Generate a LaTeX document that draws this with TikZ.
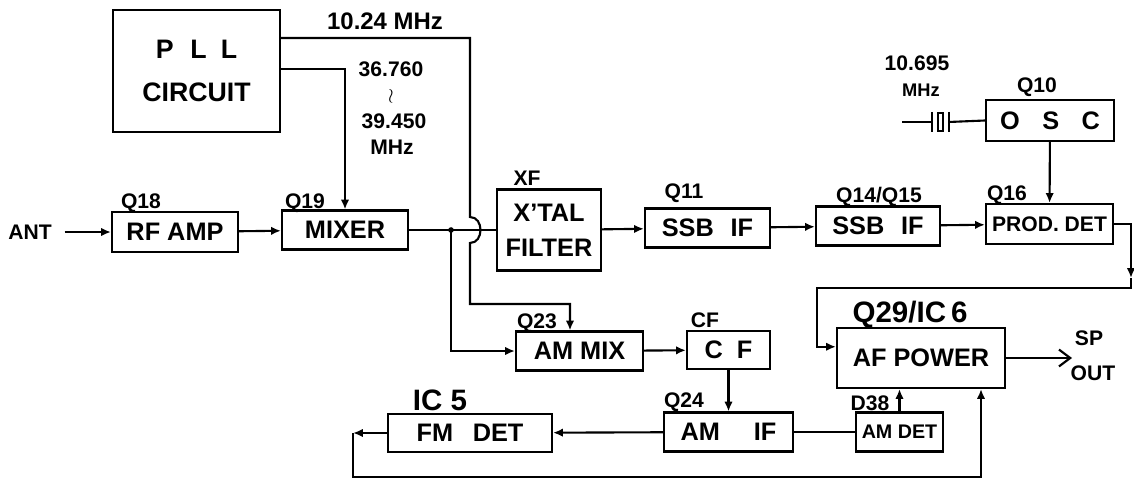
\documentclass[tikz,border=0pt]{standalone}
\usepackage{fontspec}
\setmainfont{Liberation Sans}
\usetikzlibrary{arrows.meta}

\def \pllCenterX{196.5}
\def \pllCenterY{71}
\def \rfampCenterX{175}
\def \rfampCenterY{232}
\def \mixerCenterX{345}
\def \mixerCenterY{230}
\def \xtalCenterX{549}
\def \xtalCenterY{230}
\def \ssbACenterX{707.5}
\def \ssbACenterY{228}
\def \ssbBCenterX{878}
\def \ssbBCenterY{226}
\def \prodCenterX{1049.5}
\def \prodCenterY{224}
\def \oscCenterX{1050}
\def \oscCenterY{120.5}
\def \ammixCenterX{579.5}
\def \ammixCenterY{351}
\def \cfCenterX{728.5}
\def \cfCenterY{350}
\def \afCenterX{921}
\def \afCenterY{358}
\def \amifCenterX{728.5}
\def \amifCenterY{432}
\def \amdetCenterX{899.5}
\def \amdetCenterY{432}
\def \fmdetCenterX{470}
\def \fmdetCenterY{433}

\begin{document}
\begin{tikzpicture}[x=0.025cm, y=-0.025cm,
  block/.style={draw, line width=1.5pt, inner sep=2pt, font=\bfseries\fontsize{18}{21}\selectfont},
  boxsize/.style 2 args={minimum width=#1*0.025cm, minimum height=#2*0.025cm},
  tag/.style={inner sep=0pt, font=\bfseries\fontsize{15}{18}\selectfont},
  bigtag/.style={inner sep=0pt, font=\bfseries\fontsize{21}{24}\selectfont},
  wire/.style={line width=1.5pt},
  flow/.style={wire, -{Latex[length=7pt,width=6pt]}}]
\useasboundingbox (0,0) rectangle (1134,480);

% ---- Blocks boxes
% ---- PLL
\node[block, boxsize={167}{122}, align=center, font=\bfseries\fontsize{19}{22}\selectfont] (pll) at (\pllCenterX, \pllCenterY) {P\hspace{12pt}L\hspace{10pt}L\\[8pt]CIRCUIT};
% ---- RF amp / mixer
\node[block, boxsize={126}{40}] (rfamp) at (\rfampCenterX, \rfampCenterY) {RF AMP};
\node[block, boxsize={126}{39}] (mixer) at (\mixerCenterX, \mixerCenterY) {MIXER};
% ---- Crystal filter
\node[block, boxsize={104}{81}, align=center] (xtal) at (\xtalCenterX, \xtalCenterY) {X'TAL\\[4pt]FILTER};
% ---- SSB chain
\node[block, boxsize={125}{39}] (ssbA) at (\ssbACenterX, \ssbACenterY) {SSB\hspace{12pt}IF};
\node[block, boxsize={124}{39}] (ssbB) at (\ssbBCenterX, \ssbBCenterY) {SSB\hspace{12pt}IF};
\node[block, boxsize={127}{40}, font=\bfseries\fontsize{15}{18}\selectfont] (prod) at (\prodCenterX, \prodCenterY) {PROD. DET};
\node[block, boxsize={128}{41}] (osc) at (\oscCenterX, \oscCenterY) {O\hspace{16pt}S\hspace{16pt}C};
% ---- AM chain
\node[block, boxsize={127}{39}] (ammix) at (\ammixCenterX, \ammixCenterY) {AM MIX};
\node[block, boxsize={83}{38}] (cf) at (\cfCenterX, \cfCenterY) {C\hspace{10pt}F};
\node[block, boxsize={129}{39}] (amif) at (\amifCenterX, \amifCenterY) {AM\hspace{24pt}IF};
\node[block, boxsize={87}{39}, inner sep=0pt, font=\bfseries\fontsize{14}{17}\selectfont] (amdet) at (\amdetCenterX, \amdetCenterY) {AM DET};
\node[block, boxsize={164}{38}] (fmdet) at (\fmdetCenterX, \fmdetCenterY) {FM\hspace{14pt}DET};
% ---- AF power
\node[block, boxsize={168}{60}] (af) at (\afCenterX, \afCenterY) {AF POWER};
% ---- Crystal
\node[draw, line width=1.5pt, minimum width=4pt, minimum height=18*0.025cm, inner sep=0pt] (xcr) at (940.5,122) {};

% ---- Labels
\node[tag] (ant) at (30,232) {ANT};
\node[tag, font=\bfseries\fontsize{17}{19}\selectfont] (fref) at (385,21) {10.24 MHz};
\node[tag] (floA) at (391,69) {36.760};
\node[tag, font=\fontsize{14}{14}\selectfont] (floS) at (391,96) {$\wr$};
\node[tag] (floB) at (394,121) {39.450};
\node[tag] (floM) at (392,147) {MHz};
\node[tag] (lq18) at (141,203) {Q18};
\node[tag] (lq19) at (305,203) {Q19};
\node[tag] (lxf) at (527,178) {XF};
\node[tag] (lq11) at (684,193) {Q11};
\node[tag] (lq14) at (879,197) {Q14/Q15};
\node[tag] (lq16) at (1007,195) {Q16};
\node[tag] (lq10) at (1037,87) {Q10};
\node[tag] (lxfreq) at (917,63) {10.695};
\node[tag, font=\bfseries\fontsize{13}{15}\selectfont] (lxmhz) at (921,90) {MHz};
\node[tag] (lq23) at (537,323) {Q23};
\node[tag] (lcf) at (705,320) {CF};
\node[bigtag] (lq29) at (910,315) {Q29/IC\,6};
\node[tag] (lq24) at (684,402) {Q24};
\node[tag] (ld38) at (870,403) {D38};
\node[bigtag] (lic5) at (440,400) {IC 5};
\node[tag] (sp) at (1089,338) {SP};
\node[tag] (out) at (1093,373) {OUT};

% ---- Way points
\path (pll.north east) ++(0,29) coordinate (pllA);
\path (pll.north east) ++(0,60) coordinate (pllB);
\coordinate (split) at (451,\mixerCenterY);
\coordinate (hopTop) at (470,217);
\coordinate (hopBot) at (470,243);
\coordinate (mixdrop) at (570,304);
\coordinate (xin) at (902,122);
\coordinate (pdMid) at (1131,278);
\coordinate (afL) at (817,288);
\coordinate (spout) at (1072,358);
\coordinate (fmturn) at (353,433);
\coordinate (fbR) at (981,477);

% Flux
\draw[flow, shorten <=9pt] (ant) -- (rfamp);
\draw[flow] (rfamp) -- (mixer);
\draw[flow] (pllB) -| (mixer.north);
\draw[wire] (mixer) -- (xtal);
\fill (split) circle [radius=2pt];
\draw[flow] (split) |- (ammix.west);
\draw[flow] (pllA) -| (hopTop) .. controls +(14,0) and +(14,0) .. (hopBot) |- (mixdrop) -- (mixdrop |- ammix.north);
\draw[flow] (xtal) -- (ssbA);
\draw[flow] (ssbA) -- (ssbB);
\draw[flow] (ssbB) -- (prod);
\draw[flow] (osc) -- (prod);
\draw[wire] (xin) -- ([xshift=-3pt]xcr.west);
\draw[wire] ([xshift=-3pt]xcr.north west) -- ([xshift=-3pt]xcr.south west);
\draw[wire] ([xshift=3pt]xcr.north east) -- ([xshift=3pt]xcr.south east);
\draw[wire] ([xshift=3pt]xcr.east) -- (osc.west);
\draw[flow] (prod.east) -| (pdMid);
\draw[flow] (pdMid) |- (afL) |- ([yshift=8pt]af.west);
\draw[wire, -{Straight Barb[length=8pt,width=12pt]}] (af) -- (spout);
\draw[flow] (ammix) -- (cf);
\draw[flow] (cf) -- (amif);
\draw[wire] (amif) -- (amdet);
\draw[flow] (amdet.north) -- (amdet.north |- af.south);
\draw[flow] (amif) -- (fmdet);
\draw[flow] (fmdet.west) -- (fmturn);
\draw[flow] (fmturn) |- (fbR) -- (fbR |- af.south);
\end{tikzpicture}
\end{document}
